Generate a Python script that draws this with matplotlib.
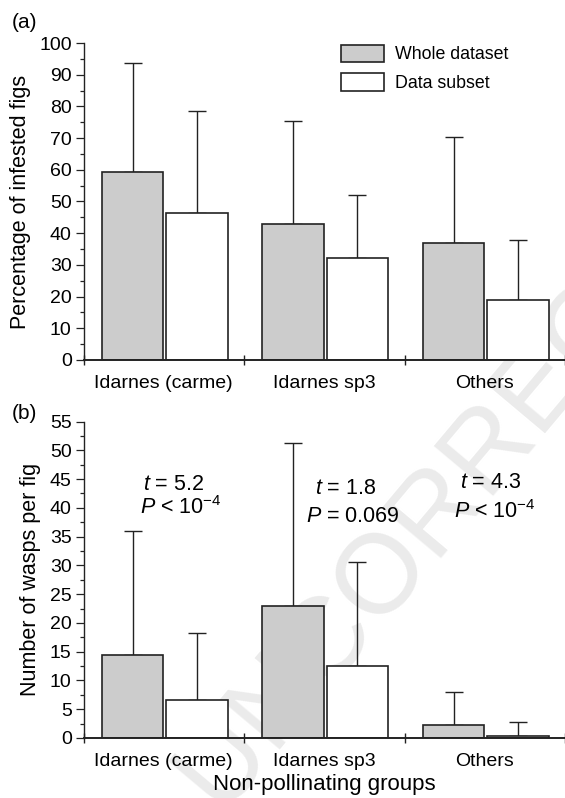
import numpy as np
import matplotlib
matplotlib.use("Agg")
import matplotlib.pyplot as plt
from matplotlib.patches import Patch

plt.rcParams['font.family'] = ['Liberation Sans', 'DejaVu Sans']
plt.rcParams['mathtext.fontset'] = 'custom'
plt.rcParams['mathtext.rm'] = 'Liberation Sans'
plt.rcParams['mathtext.it'] = 'Liberation Sans:italic'

# Data
groups = ["Idarnes (carme)", "Idarnes sp3", "Others"]
series = ["Whole dataset", "Data subset"]

infested_whole = [59.3, 43.0, 36.8]
infested_whole_top = [93.8, 75.5, 70.2]
infested_subset = [46.5, 32.2, 19.0]
infested_subset_top = [78.6, 52.1, 37.9]

wasps_whole = [14.5, 22.9, 2.2]
wasps_whole_top = [36.0, 51.2, 8.0]
wasps_subset = [6.6, 12.5, 0.3]
wasps_subset_top = [18.2, 30.5, 2.7]

t_labels = [r"$t$ = 5.2", r"$t$ = 1.8", r"$t$ = 4.3"]
p_labels = [r"$P$ < 10$^{-4}$", r"$P$ = 0.069", r"$P$ < 10$^{-4}$"]

GREY = "#cccccc"
EDGE = "#222222"
BAR_W = 0.383


def draw_panel(ax, whole, whole_top, subset, subset_top, ymax, major, minor):
    x = np.arange(len(groups))
    xg = x + 0.306
    xw = x + 0.706
    ax.bar(xg, whole, width=BAR_W, color=GREY, edgecolor=EDGE, linewidth=1.2, zorder=2)
    ax.bar(xw, subset, width=BAR_W, color="white", edgecolor=EDGE, linewidth=1.2, zorder=2)
    for xs, v, top in [(xg, whole, whole_top), (xw, subset, subset_top)]:
        v = np.array(v)
        err = np.array(top) - v
        ax.errorbar(xs, v, yerr=[np.zeros_like(err), err], fmt="none", ecolor=EDGE,
                    elinewidth=1.0, capsize=6.5, capthick=1.0, zorder=1)

    ax.set_xlim(0, 3)
    ax.set_ylim(0, ymax)
    ax.set_yticks(np.arange(0, ymax + 0.01, major))
    ax.set_yticks(np.arange(0, ymax + 0.01, minor), minor=True)
    ax.set_xticks([0, 1, 2, 3])
    ax.set_xticklabels([])
    ax.set_xticks(x + 0.5, minor=True)
    ax.set_xticklabels(groups, minor=True)

    ax.tick_params(axis="x", which="major", direction="inout", length=7, width=1.0, color=EDGE)
    ax.tick_params(axis="x", which="minor", length=0, pad=10.5, labelsize=14)
    ax.tick_params(axis="y", which="major", direction="out", length=6, width=0.9,
                   pad=2.5, labelsize=14, color=EDGE)
    ax.tick_params(axis="y", which="minor", direction="out", length=3, width=0.9, color=EDGE)

    for s in ["top", "right"]:
        ax.spines[s].set_visible(False)
    ax.spines["left"].set_linewidth(1.0)
    ax.spines["bottom"].set_linewidth(1.4)
    ax.spines["left"].set_color(EDGE)
    ax.spines["bottom"].set_color(EDGE)
    ax.spines["bottom"].set_zorder(3)
    ax.set_facecolor("none")


fig = plt.figure(figsize=(5.65, 7.98), dpi=100)

# faint proof watermark behind the panels
fig.text(0.389, -0.017, "UNCORRECTED", rotation=50, fontsize=81, color="#ebebeb",
         ha="left", va="baseline", rotation_mode="anchor", zorder=-1)

ax1 = fig.add_axes([0.1478, 0.5489, 0.8522, 0.3972])
draw_panel(ax1, infested_whole, infested_whole_top, infested_subset, infested_subset_top, 100, 10, 5)
ax1.set_ylabel("Percentage of infested figs", fontsize=15.5, labelpad=6)
ax1.legend(handles=[Patch(facecolor=GREY, edgecolor=EDGE, linewidth=1.2, label=series[0]),
                    Patch(facecolor="white", edgecolor=EDGE, linewidth=1.2, label=series[1])],
           loc="upper left", bbox_to_anchor=(0.535, 0.995), frameon=False, fontsize=12.8,
           borderpad=0, borderaxespad=0, handlelength=2.4, handleheight=1.12,
           handletextpad=0.65, labelspacing=0.56)

ax2 = fig.add_axes([0.1478, 0.0752, 0.8522, 0.3966])
draw_panel(ax2, wasps_whole, wasps_whole_top, wasps_subset, wasps_subset_top, 55, 5, 2.5)
ax2.set_ylabel("Number of wasps per fig", fontsize=15.5, labelpad=6)
ax2.set_xlabel("Non-pollinating groups", fontsize=16, labelpad=3.5)

t_pos = [(0.564, 44.0), (1.631, 43.3), (2.540, 44.4)]
p_pos = [(0.606, 40.0), (1.676, 38.5), (2.561, 39.4)]
for (tx, ty), lab in zip(t_pos, t_labels):
    ax2.text(tx, ty, lab, ha="center", va="center", fontsize=15.5)
for (px, py), lab in zip(p_pos, p_labels):
    ax2.text(px, py, lab, ha="center", va="center", fontsize=15.5)

fig.text(12 / 565, 1 - 22 / 798, "(a)", fontsize=15, ha="left", va="center")
fig.text(12 / 565, 1 - 413 / 798, "(b)", fontsize=15, ha="left", va="center")

fig.savefig("out.png", dpi=100)
